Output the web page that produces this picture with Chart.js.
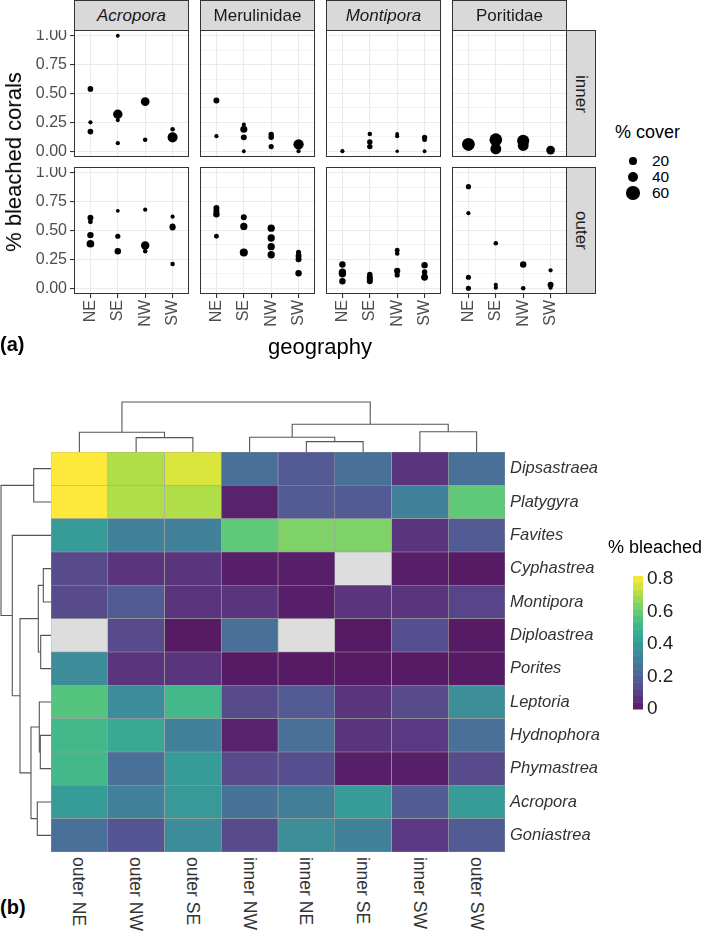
<!DOCTYPE html>
<html>
<head>
<meta charset="utf-8">
<script src="https://cdn.jsdelivr.net/npm/chart.js@4.4.0/dist/chart.umd.min.js"></script>
<style>
  body { margin: 0; width: 704px; height: 933px; background: #fff; position: relative; overflow: hidden;
         font-family: 'Liberation Sans', Arial, sans-serif; }
  canvas { position: absolute; }
  .txt { position: absolute; white-space: nowrap; }
  .strip { position: absolute; box-sizing: border-box; border: 1px solid #333; background: #d9d9d9;
           display: flex; align-items: center; justify-content: center; color: #1a1a1a; font-size: 17px; }
  .vert { writing-mode: vertical-rl; }
</style>
</head>
<body>
<script>
// ---------- (a) bleached proportion by family, zone and geography ----------
const families = ['Acropora', 'Merulinidae', 'Montipora', 'Poritidae'];
const familyItalic = [true, false, true, false];
const zones = ['inner', 'outer'];
const geoLabels = ['NE', 'SE', 'NW', 'SW'];
const yMajor = [0, 0.25, 0.5, 0.75, 1];
const yMajorLabels = ['0.00', '0.25', '0.50', '0.75', '1.00'];
const yMinor = [0.125, 0.375, 0.625, 0.875];
const coverLegend = [20, 40, 60];

// [geography index, proportion bleached, % cover]
const acroporaInner = [
  [0, 0.54, 11], [0, 0.25, 6], [0, 0.17, 11],
  [1, 1.00, 5], [1, 0.32, 30], [1, 0.27, 6], [1, 0.07, 6],
  [2, 0.43, 26], [2, 0.10, 7],
  [3, 0.19, 7], [3, 0.12, 34]
];
const merulinidaeInner = [
  [0, 0.44, 12], [0, 0.13, 6],
  [1, 0.23, 6], [1, 0.19, 17], [1, 0.12, 12], [1, 0.00, 5],
  [2, 0.145, 10], [2, 0.12, 10], [2, 0.04, 9],
  [3, 0.06, 36], [3, 0.00, 6]
];
const montiporaInner = [
  [0, 0.00, 6],
  [1, 0.15, 7], [1, 0.08, 10], [1, 0.04, 10],
  [2, 0.15, 5], [2, 0.13, 6], [2, 0.00, 4],
  [3, 0.12, 9], [3, 0.10, 8], [3, 0.00, 5]
];
const poritidaeInner = [
  [0, 0.06, 55], [0, 0.045, 30],
  [1, 0.10, 55], [1, 0.02, 40],
  [2, 0.09, 50], [2, 0.05, 40],
  [3, 0.01, 26]
];
const acroporaOuter = [
  [0, 0.61, 12], [0, 0.575, 8], [0, 0.46, 14], [0, 0.385, 20],
  [1, 0.67, 5], [1, 0.45, 9], [1, 0.32, 14],
  [2, 0.68, 6], [2, 0.37, 24], [2, 0.32, 7],
  [3, 0.62, 6], [3, 0.535, 12], [3, 0.525, 12], [3, 0.21, 7]
];
const merulinidaeOuter = [
  [0, 0.695, 12], [0, 0.67, 12], [0, 0.64, 14], [0, 0.45, 8],
  [1, 0.615, 12], [1, 0.535, 18], [1, 0.31, 22],
  [2, 0.52, 18], [2, 0.435, 18], [2, 0.36, 18], [2, 0.29, 18],
  [3, 0.31, 9], [3, 0.28, 12], [3, 0.25, 12], [3, 0.13, 14]
];
const montiporaOuter = [
  [0, 0.205, 14], [0, 0.14, 18], [0, 0.125, 18], [0, 0.06, 14],
  [1, 0.12, 10], [1, 0.095, 12], [1, 0.08, 12], [1, 0.06, 12],
  [2, 0.33, 8], [2, 0.30, 7], [2, 0.15, 13], [2, 0.115, 9],
  [3, 0.20, 14], [3, 0.14, 10], [3, 0.095, 16]
];
const poritidaeOuter = [
  [0, 0.88, 9], [0, 0.65, 6], [0, 0.095, 9], [0, 0.00, 9],
  [1, 0.39, 7], [1, 0.03, 6], [1, 0.005, 6],
  [2, 0.205, 14], [2, 0.00, 7],
  [3, 0.155, 6], [3, 0.03, 12], [3, 0.005, 6]
];
const panelData = [
  [acroporaInner, merulinidaeInner, montiporaInner, poritidaeInner],
  [acroporaOuter, merulinidaeOuter, montiporaOuter, poritidaeOuter]
];

// ---------- (b) heatmap ----------
const heatCols = ['outer NE', 'outer NW', 'outer SE', 'inner NW', 'inner NE', 'inner SE', 'inner SW', 'outer SW'];
const heatRows = ['Dipsastraea', 'Platygyra', 'Favites', 'Cyphastrea', 'Montipora', 'Diploastrea',
                  'Porites', 'Leptoria', 'Hydnophora', 'Phymastrea', 'Acropora', 'Goniastrea'];
const heatValues = [
  [0.82, 0.71, 0.77, 0.25, 0.18, 0.25, 0.07, 0.25],
  [0.82, 0.71, 0.71, 0.02, 0.18, 0.18, 0.31, 0.59],
  [0.41, 0.31, 0.31, 0.59, 0.64, 0.64, 0.07, 0.18],
  [0.13, 0.07, 0.07, 0.01, 0.01, null, 0.01, 0.00],
  [0.13, 0.18, 0.07, 0.07, 0.01, 0.07, 0.07, 0.11],
  [null, 0.13, 0.00, 0.25, null, 0.00, 0.14, 0.00],
  [0.35, 0.07, 0.07, 0.00, 0.00, 0.00, 0.00, 0.00],
  [0.57, 0.35, 0.52, 0.13, 0.18, 0.07, 0.13, 0.36],
  [0.52, 0.46, 0.31, 0.02, 0.25, 0.07, 0.08, 0.25],
  [0.52, 0.25, 0.41, 0.13, 0.14, 0.01, 0.01, 0.13],
  [0.41, 0.31, 0.40, 0.26, 0.30, 0.41, 0.18, 0.41],
  [0.25, 0.16, 0.35, 0.13, 0.36, 0.31, 0.08, 0.18]
];
const bleachMax = 0.82;
const legendTicks = [0, 0.2, 0.4, 0.6, 0.8];
const legendTickLabels = ['0', '0.2', '0.4', '0.6', '0.8'];
// hclust-style merges: negative = leaf (1-based), positive = earlier merge; third item = height
const colMerge = [[-5, -6, 1.04], [-2, -3, 1.44], [-4, 1, 1.47], [-1, 2, 1.97], [-7, -8, 2.02], [3, 5, 2.77], [4, 6, 5.0]];
const rowMerge = [[-4, -5, 0.77], [-6, -7, 1.03], [-9, -10, 1.07], [-8, 3, 1.17], [1, 2, 1.27], [-11, -12, 1.37],
                  [-1, -2, 1.73], [4, 6, 2.0], [5, 8, 3.1], [-3, 9, 3.87], [7, 10, 5.0]];

Chart.defaults.font.family = "'Liberation Sans', Arial, sans-serif";
Chart.defaults.animation = false;
Chart.defaults.layout.autoPadding = false;

const viridis = ['#440154', '#482475', '#414487', '#355f8d', '#2a788e', '#21918c', '#22a884', '#44bf70', '#7ad151', '#bddf26', '#fde725'];
function cellColor(v) {
  if (v === null) return '#dddddd';
  const t = Math.max(0, Math.min(1, v / bleachMax)) * (viridis.length - 1);
  const i = Math.min(Math.floor(t), viridis.length - 2), f = t - i;
  const a = viridis[i], b = viridis[i + 1];
  const ch = k => {
    const x = parseInt(a.substr(1 + 2 * k, 2), 16) * (1 - f) + parseInt(b.substr(1 + 2 * k, 2), 16) * f;
    return Math.round(x * 0.9 + 25.5);
  };
  return `rgb(${ch(0)},${ch(1)},${ch(2)})`;
}
const coverRadius = c => Math.max(1.6, 0.86 * Math.sqrt(c));

function addCanvas(left, top, w, h) {
  const cv = document.createElement('canvas');
  cv.width = w; cv.height = h;
  cv.style.left = left + 'px'; cv.style.top = top + 'px';
  document.body.appendChild(cv);
  return cv;
}
function addText(html, css, cls) {
  const d = document.createElement('div');
  d.className = cls || 'txt';
  d.innerHTML = html;
  d.style.cssText = css;
  document.body.appendChild(d);
  return d;
}
// stop Chart.js from shrinking the plot area to fit overhanging tick labels
function noPad(s) { s.paddingTop = 0; s.paddingBottom = 0; s.paddingLeft = 0; s.paddingRight = 0; }

const panelBorder = {
  id: 'panelBorder',
  afterDraw(chart) {
    const a = chart.chartArea, ctx = chart.ctx;
    ctx.save();
    ctx.strokeStyle = '#333'; ctx.lineWidth = 1;
    ctx.strokeRect(a.left + 0.5, a.top + 0.5, a.width - 1, a.height - 1);
    ctx.restore();
  }
};

// facet geometry
const panelLeft = [74, 200, 326, 452];
const panelTop = [30, 167];
const panelW = 115, panelH = 127;
const yAxisW = 50, xAxisH = 50;
const yTicksAll = yMajor.concat(yMinor).sort((a, b) => a - b);
const isMajor = v => yMajor.includes(v);

function makePanel(points, col, row) {
  const showY = col === 0, showX = row === 1;
  const cv = addCanvas(panelLeft[col] - (showY ? yAxisW : 0), panelTop[row],
                       panelW + (showY ? yAxisW : 0), panelH + (showX ? xAxisH : 0));
  new Chart(cv, {
    type: 'scatter',
    data: {
      datasets: [{
        data: points.map(p => ({ x: p[0] + 1, y: p[1], cover: p[2] })),
        backgroundColor: '#000', borderWidth: 0,
        pointRadius: ctx => coverRadius(ctx.raw.cover), pointHoverRadius: ctx => coverRadius(ctx.raw.cover)
      }]
    },
    options: {
      responsive: false,
      layout: { padding: 0 },
      plugins: { legend: { display: false }, tooltip: { enabled: false } },
      scales: {
        x: {
          type: 'linear', min: 0.4, max: 4.6,
          afterBuildTicks: s => { s.ticks = geoLabels.map((_, i) => ({ value: i + 1 })); },
          afterFit: s => { s.height = showX ? xAxisH : 0; noPad(s); },
          grid: { color: '#ebebeb', lineWidth: 1.1, drawTicks: showX, tickLength: 4, tickColor: '#333' },
          border: { display: false },
          ticks: { display: showX, minRotation: 90, maxRotation: 90, padding: 2, color: '#4d4d4d',
                   font: { size: 16 }, callback: v => geoLabels[v - 1] }
        },
        y: {
          type: 'linear', min: -0.05, max: 1.05,
          afterBuildTicks: s => { s.ticks = yTicksAll.map(v => ({ value: v })); },
          afterFit: s => { s.width = showY ? yAxisW : 0; noPad(s); },
          grid: {
            color: '#ebebeb',
            lineWidth: ctx => (ctx.tick && isMajor(ctx.tick.value)) ? 1.1 : 0.55,
            drawTicks: showY, tickLength: 4,
            tickColor: ctx => (ctx.tick && isMajor(ctx.tick.value)) ? '#333' : 'rgba(0,0,0,0)'
          },
          border: { display: false },
          ticks: { display: showY, padding: 3, color: '#4d4d4d', font: { size: 16 },
                   callback: v => isMajor(v) ? yMajorLabels[yMajor.indexOf(v)] : '' }
        }
      }
    },
    plugins: [panelBorder]
  });
}

panelData.forEach((rowData, r) => rowData.forEach((pts, c) => makePanel(pts, c, r)));

// strips
families.forEach((f, c) => {
  addText(f, `left:${panelLeft[c]}px;top:0px;width:${panelW}px;height:31px;font-style:${familyItalic[c] ? 'italic' : 'normal'}`, 'strip');
});
zones.forEach((z, r) => {
  addText(`<span class="vert">${z}</span>`, `left:${panelLeft[3] + panelW - 1}px;top:${panelTop[r]}px;width:30px;height:${panelH}px`, 'strip');
});

// axis titles and tag
addText('% bleached corals', 'left:14px;top:162px;font-size:22px;transform:translate(-50%,-50%) rotate(-90deg);');
addText('geography', 'left:320px;top:347px;font-size:22px;transform:translate(-50%,-50%);');
addText('(a)', 'left:0px;top:333px;font-size:20px;font-weight:bold;');

// % cover legend
addText('% cover', 'left:615px;top:122px;font-size:18px;');
coverLegend.forEach((c, i) => {
  const r = coverRadius(c), cy = 161 + i * 16;
  addText('', `left:${633 - r}px;top:${cy - r}px;width:${2 * r}px;height:${2 * r}px;border-radius:50%;background:#000;`);
  addText(String(c), `left:652px;top:${cy - 9}px;font-size:15.5px;line-height:18px;`);
});

// ---------- (b) heatmap ----------
const heatLeft = 51, heatTop = 452, heatW = 454, heatH = 400, treeH = 50;

const hm = addCanvas(heatLeft, heatTop, 653, heatH);
new Chart(hm, {
  type: 'bar',
  data: {
    labels: heatRows,
    datasets: heatCols.map((col, c) => ({
      label: col,
      data: heatRows.map(() => 1),
      backgroundColor: heatValues.map(row => cellColor(row[c])),
      borderColor: '#a0a0a0', borderWidth: 0.6, borderSkipped: false,
      categoryPercentage: 1, barPercentage: 1
    }))
  },
  options: {
    indexAxis: 'y', responsive: false,
    layout: { padding: 0 },
    plugins: { legend: { display: false }, tooltip: { enabled: false } },
    scales: {
      x: { stacked: true, min: 0, max: heatCols.length, display: false },
      y: {
        stacked: true, position: 'right',
        afterFit: s => { s.width = 653 - heatW; noPad(s); },
        grid: { display: false, drawTicks: false }, border: { display: false },
        ticks: { padding: 5, color: '#333', font: { size: 16.5, style: 'italic' } }
      }
    }
  }
});

// column labels
heatCols.forEach((c, i) => {
  const cx = heatLeft + heatW / heatCols.length * (i + 0.5);
  addText(`<span class="vert">${c}</span>`, `left:${cx - 11}px;top:857px;width:22px;line-height:22px;font-size:17.5px;color:#333;`);
});

// dendrograms
function dendroSegments(merge) {
  const pos = [], hgt = [];
  const node = k => k < 0 ? { p: -k - 0.5, h: 0 } : { p: pos[k - 1], h: hgt[k - 1] };
  return merge.map(([a, b, h], i) => {
    const A = node(a), B = node(b);
    pos[i] = (A.p + B.p) / 2; hgt[i] = h;
    return [{ p: A.p, h: A.h }, { p: A.p, h }, { p: B.p, h }, { p: B.p, h: B.h }];
  });
}
const treeStyle = { showLine: true, borderColor: '#555', borderWidth: 1.1, pointRadius: 0, fill: false, clip: false };

const colTree = addCanvas(heatLeft, heatTop - treeH - 5, heatW, treeH + 5);
new Chart(colTree, {
  type: 'scatter',
  data: { datasets: dendroSegments(colMerge).map(seg => ({ ...treeStyle, data: seg.map(s => ({ x: s.p, y: s.h })) })) },
  options: {
    responsive: false, layout: { padding: { top: 5 } },
    plugins: { legend: { display: false }, tooltip: { enabled: false } },
    scales: {
      x: { min: 0, max: heatCols.length, display: false },
      y: { min: 0, max: colMerge[colMerge.length - 1][2], display: false }
    }
  }
});

const rowTree = addCanvas(0, heatTop, heatLeft, heatH);
new Chart(rowTree, {
  type: 'scatter',
  data: { datasets: dendroSegments(rowMerge).map(seg => ({ ...treeStyle, data: seg.map(s => ({ x: s.h, y: s.p })) })) },
  options: {
    responsive: false, layout: { padding: { left: 1 } },
    plugins: { legend: { display: false }, tooltip: { enabled: false } },
    scales: {
      x: { min: 0, max: rowMerge[rowMerge.length - 1][2], reverse: true, display: false },
      y: { min: 0, max: heatRows.length, reverse: true, display: false }
    }
  }
});

// colour legend
addText('% bleached', 'left:608px;top:537px;font-size:18px;');
const colorBar = {
  id: 'colorBar',
  beforeDraw(chart) {
    const y = chart.scales.y, a = chart.chartArea, ctx = chart.ctx, n = 20;
    for (let i = 0; i < n; i++) {
      const y0 = y.getPixelForValue(bleachMax * i / n), y1 = y.getPixelForValue(bleachMax * (i + 1) / n);
      ctx.fillStyle = cellColor(bleachMax * (i + 0.5) / n);
      ctx.fillRect(a.left, y1, a.width, y0 - y1 + 0.5);
    }
  }
};
const lg = addCanvas(633, 566, 71, 153);
new Chart(lg, {
  type: 'scatter',
  data: { datasets: [{ data: [] }] },
  options: {
    responsive: false, layout: { padding: { top: 10, bottom: 10 } },
    plugins: { legend: { display: false }, tooltip: { enabled: false } },
    scales: {
      x: { display: false, min: 0, max: 1 },
      y: {
        position: 'right', min: 0, max: bleachMax,
        afterBuildTicks: s => { s.ticks = legendTicks.map(v => ({ value: v })); },
        afterFit: s => { s.width = 61; noPad(s); },
        grid: { display: false, drawTicks: false }, border: { display: false },
        ticks: { padding: 4, color: '#222', font: { size: 19 }, callback: (v, i) => legendTickLabels[i] }
      }
    }
  },
  plugins: [colorBar]
});

addText('(b)', 'left:0px;top:896px;font-size:20px;font-weight:bold;');
</script>
</body>
</html>
